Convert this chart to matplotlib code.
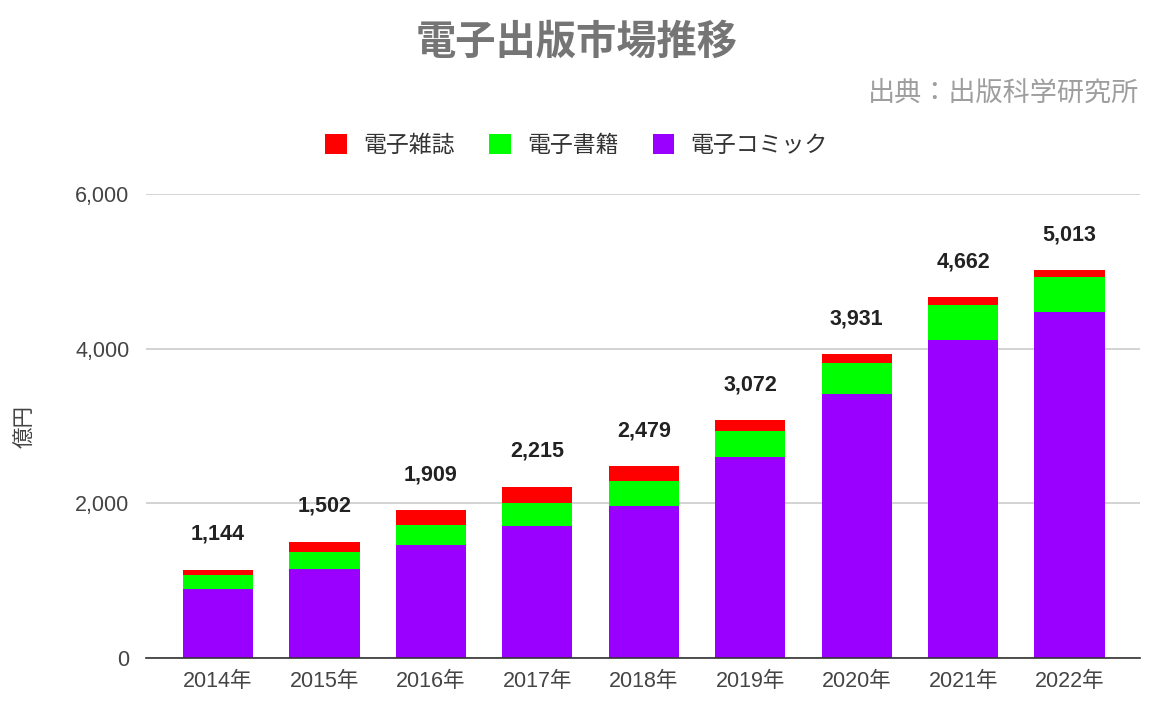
import matplotlib
matplotlib.use("Agg")
import matplotlib.pyplot as plt
import numpy as np
from matplotlib.ticker import FuncFormatter

plt.rcParams['font.family'] = ['Liberation Sans', 'Noto Sans CJK JP', 'DejaVu Sans']
cjk = ['Noto Sans CJK JP', 'DejaVu Sans']

# 電子出版市場 (億円)
years = ['2014年', '2015年', '2016年', '2017年', '2018年', '2019年', '2020年', '2021年', '2022年']
comic = [887, 1149, 1460, 1711, 1965, 2593, 3420, 4114, 4479]
books = [192, 228, 258, 290, 321, 349, 401, 449, 446]
magazines = [65, 125, 191, 214, 193, 130, 110, 99, 88]
totals = [1144, 1502, 1909, 2215, 2479, 3072, 3931, 4662, 5013]

fig = plt.figure(figsize=(11.53, 7.03), dpi=100)
ax = fig.add_axes([0.1266, 0.064, 0.862, 0.660])

x = np.arange(len(years))
w = 0.66
comic = np.array(comic)
books = np.array(books)
magazines = np.array(magazines)

ax.bar(x, comic, w, color='#9900ff', label='電子コミック', zorder=3)
ax.bar(x, books, w, bottom=comic, color='#00ff00', label='電子書籍', zorder=3)
ax.bar(x, magazines, w, bottom=comic + books, color='#ff0000', label='電子雑誌', zorder=3)

for xi, t in zip(x, totals):
    ax.annotate(f'{t:,}', (xi, t), xytext=(0, 18), textcoords='offset points',
                ha='center', va='bottom', fontsize=15.5, fontweight='bold', color='#222222')

ax.set_xlim(-0.676, 8.66)
ax.set_ylim(0, 6000)
ax.set_yticks([0, 2000, 4000, 6000])
ax.yaxis.set_major_formatter(FuncFormatter(lambda v, p: f'{int(v):,}'))
ax.set_xticks(x)
ax.set_xticklabels(years)
ax.tick_params(axis='both', length=0, labelsize=15.5, colors='#444444')
ax.tick_params(axis='x', pad=9)
ax.tick_params(axis='y', pad=12)
ax.grid(axis='y', color='#cccccc', linewidth=1.2, zorder=0)
for s in ['top', 'right', 'left']:
    ax.spines[s].set_visible(False)
ax.spines['bottom'].set_color('#333333')
ax.spines['bottom'].set_linewidth(1.2)
ax.spines['bottom'].set_zorder(4)

ax.set_ylabel('億円', fontsize=15.5, color='#444444', labelpad=28, family=cjk)

fig.text(0.5, 0.94, '電子出版市場推移', ha='center', va='center', fontsize=29,
         fontweight='bold', color='#757575', family=cjk)
fig.text(0.988, 0.867, '出典：出版科学研究所', ha='right', va='center', fontsize=19.5,
         color='#9e9e9e', family=cjk)

handles, labels = ax.get_legend_handles_labels()
leg = fig.legend(handles[::-1], labels[::-1], loc='center', bbox_to_anchor=(0.5, 0.793), ncol=3,
                 frameon=False, prop={'family': cjk, 'size': 16.5}, handlelength=0.95,
                 handleheight=0.95, columnspacing=1.5, handletextpad=0.7)
for t in leg.get_texts():
    t.set_color('#333333')

fig.savefig('out.png', dpi=100)
